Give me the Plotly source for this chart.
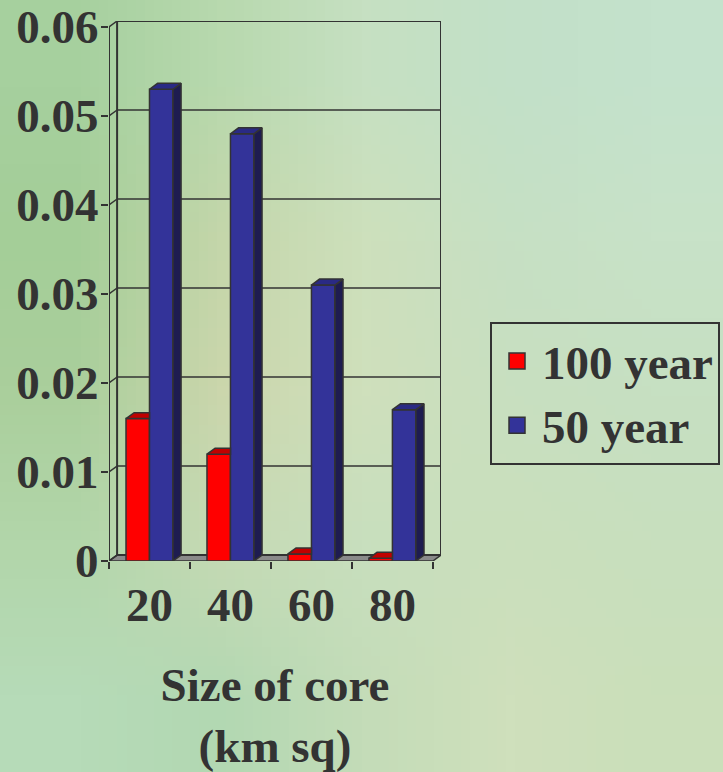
import base64, struct, zlib
import plotly.graph_objects as go

# ---------------- data ----------------
categories = ["20", "40", "60", "80"]
series_names = ["100 year", "50 year"]
values_100yr = [0.016, 0.012, 0.0008, 0.0003]
values_50yr = [0.053, 0.048, 0.031, 0.017]
y_tick_values = [0, 0.01, 0.02, 0.03, 0.04, 0.05, 0.06]
y_tick_labels = ["0", "0.01", "0.02", "0.03", "0.04", "0.05", "0.06"]
x_title = "Size of core<br>(km sq)"

# ---------------- style ----------------
FONT = "Liberation Serif"
TXT = "#333333"
RED, RED_TOP = "#ff0000", "#c00000"
BLUE, BLUE_TOP, BLUE_SIDE = "#333399", "#2a2a84", "#1e1c50"
EDGE = "#333333"
W, H = 723, 772
ML, MR, MT, MB = 109, 282, 21, 211
DX = 0.1        # depth in x units
DY = 0.00067    # depth in y units
BAR_W = 0.29
YMAX = y_tick_values[-1]
X0, X1 = -0.5, len(categories) - 0.5
xs = list(range(len(categories)))


# ---------------- background gradient image (tiny PNG, stretched) ----------------
def png_bytes(grid):
    h = len(grid); w = len(grid[0])
    raw = b"".join(b"\x00" + b"".join(bytes(int(c[i:i + 2], 16) for i in (1, 3, 5)) for c in row) for row in grid)
    def chunk(t, d):
        return struct.pack(">I", len(d)) + t + d + struct.pack(">I", zlib.crc32(t + d) & 0xffffffff)
    return (b"\x89PNG\r\n\x1a\n" + chunk(b"IHDR", struct.pack(">IIBBBBB", w, h, 8, 2, 0, 0, 0))
            + chunk(b"IDAT", zlib.compress(raw)) + chunk(b"IEND", b""))

bg_grid = [
    ["#a6d09e", "#b8d9ae", "#c6e0c2", "#c2e0c8", "#c4e2cc"],
    ["#a4ce98", "#c4d6aa", "#cde0bc", "#c6e0c4", "#c8e2c8"],
    ["#aacf9c", "#cbd6ac", "#cfe0bc", "#c8dfc0", "#c6e0c2"],
    ["#b2d6aa", "#c6dab4", "#c8dfbe", "#cadfbc", "#c8dfbe"],
    ["#b6dbb8", "#b2d8b2", "#c4dcb8", "#cfe0bc", "#cadfba"],
]
bg_uri = "data:image/png;base64," + base64.b64encode(png_bytes(bg_grid)).decode()

pw, ph = W - ML - MR, H - MT - MB

fig = go.Figure()

# front faces of the bars
for vals, name, col in [(values_100yr, series_names[0], RED), (values_50yr, series_names[1], BLUE)]:
    fig.add_trace(go.Bar(x=xs, y=vals, name=name, legendgroup=name, showlegend=False,
                         width=BAR_W, offset=-BAR_W if col == RED else 0,
                         marker=dict(color=col, line=dict(color=EDGE, width=1.5)), hoverinfo="skip"))

# 3-D top / side faces derived from the values
red_top_x, red_top_y = [], []
for x, v, vb in zip(xs, values_100yr, values_50yr):
    a, b = x - BAR_W, x
    if vb >= v:
        px = [a, b, b, a + DX, a]
    else:
        px = [a, b, b + DX, a + DX, a]
    py = [v, v, v + DY, v + DY, v]
    red_top_x += px + [None]; red_top_y += py + [None]

blue_top_x, blue_top_y, blue_side_x, blue_side_y = [], [], [], []
for x, v in zip(xs, values_50yr):
    a, b = x, x + BAR_W
    blue_top_x += [a, b, b + DX, a + DX, a, None]
    blue_top_y += [v, v, v + DY, v + DY, v, None]
    blue_side_x += [b, b + DX, b + DX, b, b, None]
    blue_side_y += [0, DY, v + DY, v, 0, None]

for fx, fy, col in [(red_top_x, red_top_y, RED_TOP), (blue_side_x, blue_side_y, BLUE_SIDE),
                    (blue_top_x, blue_top_y, BLUE_TOP)]:
    fig.add_trace(go.Scatter(x=fx, y=fy, mode="lines", fill="toself", fillcolor=col,
                             line=dict(color=EDGE, width=1.5), showlegend=False, hoverinfo="skip"))

# legend entries (larger square swatches than the bar default)
for name, col in [(series_names[0], RED), (series_names[1], BLUE)]:
    fig.add_trace(go.Scatter(x=[None], y=[None], mode="markers", name=name, legendgroup=name,
                             marker=dict(symbol="square", size=16, color=col,
                                         line=dict(color=EDGE, width=1.5))))

# walls, grid and floor
shapes = []
shapes.append(dict(type="path", layer="below", fillcolor="#8a8a8a", line=dict(color=EDGE, width=1.5),
                   path=f"M{X0},0 L{X1},0 L{X1 + DX},{DY} L{X0 + DX},{DY} Z"))
shapes.append(dict(type="rect", layer="below", x0=X0 + DX, x1=X1 + DX, y0=DY, y1=YMAX + DY,
                   line=dict(color=EDGE, width=2)))
for v in y_tick_values[1:-1]:
    shapes.append(dict(type="line", layer="below", x0=X0 + DX, x1=X1 + DX, y0=v + DY, y1=v + DY,
                       line=dict(color=EDGE, width=1.5)))
shapes.append(dict(type="line", layer="below", x0=X0, x1=X0, y0=0, y1=YMAX, line=dict(color=EDGE, width=2)))
for v in y_tick_values:
    shapes.append(dict(type="line", layer="below", x0=X0, x1=X0 + DX, y0=v, y1=v + DY,
                       line=dict(color=EDGE, width=1.5)))

tick_font = dict(family=FONT, size=47, color=TXT, weight="bold")

fig.update_layout(
    width=W, height=H,
    margin=dict(l=ML, r=MR, t=MT, b=MB, autoexpand=False),
    paper_bgcolor="#c2dcb8", plot_bgcolor="rgba(0,0,0,0)",
    barmode="overlay", hovermode=False,
    shapes=shapes,
    images=[dict(source=bg_uri, xref="paper", yref="paper", x=-ML / pw, y=1 + MT / ph,
                 sizex=W / pw, sizey=H / ph, sizing="stretch", xanchor="left", yanchor="top",
                 layer="below")],
    xaxis=dict(range=[X0, X1 + DX], tickvals=xs, ticktext=categories, ticks="",
               minor=dict(tickvals=[i - 0.5 for i in range(len(categories) + 1)], ticks="outside",
                          ticklen=7, tickwidth=2, tickcolor=EDGE),
               showgrid=False, zeroline=False, showline=False, tickfont=tick_font,
               ticklabelstandoff=12,
               title=dict(text=x_title, font=tick_font, standoff=38)),
    yaxis=dict(range=[0, YMAX + DY], tickvals=y_tick_values, ticktext=y_tick_labels,
               ticks="outside", ticklen=7, tickwidth=2, tickcolor=EDGE,
               showgrid=False, zeroline=False, showline=False, tickfont=tick_font,
               ticklabelstandoff=-7),
    legend=dict(x=(490 - ML) / pw, y=(MT + ph - 322) / ph, xanchor="left", yanchor="top",
                font=tick_font, bordercolor=EDGE, borderwidth=2, bgcolor="rgba(0,0,0,0)",
                itemwidth=40, entrywidth=215, traceorder="normal"),
)

fig.write_html("out.html", config={"displayModeBar": False, "staticPlot": True},
               post_script="document.body.style.margin='0';document.body.style.overflow='hidden';")
